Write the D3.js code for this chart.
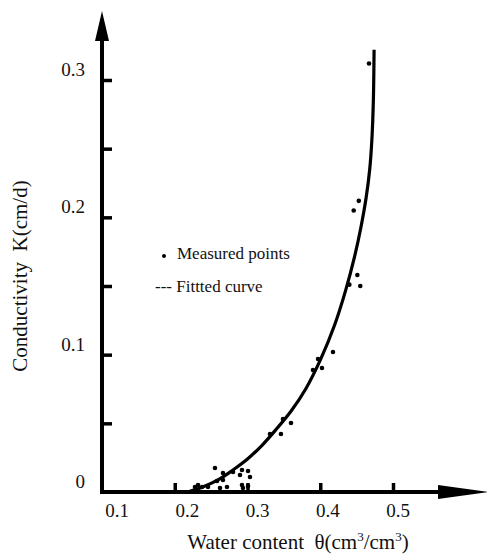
<!DOCTYPE html>
<html>
<head>
<meta charset="utf-8">
<script src="https://cdn.jsdelivr.net/npm/d3@7/dist/d3.min.js"></script>
<style>
  html, body { margin: 0; padding: 0; background: #fff; }
  svg { display: block; }
</style>
</head>
<body>
<script>
// ---- data ----
const measuredTheta = [0.467, 0.453, 0.446, 0.451, 0.440, 0.455,
  0.4175, 0.397, 0.390, 0.4024, 0.3488, 0.3598, 0.3309, 0.346,
  0.2553, 0.2663, 0.2801, 0.2924, 0.3007, 0.3034, 0.2897, 0.2663, 0.2581,
  0.2718, 0.2924, 0.2938, 0.3007, 0.2278, 0.232, 0.2375, 0.2457, 0.2622];
const measuredK = [0.312, 0.212, 0.205, 0.158, 0.151, 0.150,
  0.1019, 0.0968, 0.0888, 0.0903, 0.0532, 0.0502, 0.0422, 0.0422,
  0.0175, 0.0138, 0.0146, 0.0160, 0.0153, 0.0109, 0.0124, 0.0087, 0.0080,
  0.0036, 0.0051, 0.0029, 0.0044, 0.0036, 0.0051, 0.0036, 0.0036, 0.0029];
const fitTheta = [0.218, 0.24, 0.26, 0.28, 0.30, 0.32, 0.34, 0.36, 0.38, 0.40,
  0.42, 0.435, 0.447, 0.456, 0.463, 0.468, 0.471, 0.473, 0.474];
const fitK = [0.0, 0.004, 0.009, 0.016, 0.024, 0.034, 0.046, 0.059, 0.075, 0.096,
  0.122, 0.147, 0.171, 0.193, 0.214, 0.235, 0.257, 0.285, 0.322];
const xTickValues = [0.2, 0.3, 0.4, 0.5];
const xLabelValues = [0.1, 0.2, 0.3, 0.4, 0.5];
const xLabelText = ["0.1", "0.2", "0.3", "0.4", "0.5"];
const yTickValues = [0.05, 0.1, 0.15, 0.2, 0.25, 0.3];
const yLabelValues = [0, 0.1, 0.2, 0.3];
const yLabelText = ["0", "0.1", "0.2", "0.3"];
const legendMeasured = "Measured points";
const legendFitted = "--- Fittted curve";

// ---- layout ----
const W = 487, H = 556;
const FONT = "'Liberation Serif', 'Times New Roman', Times, serif";
const svg = d3.select("body").append("svg").attr("width", W).attr("height", H)
  .attr("font-family", FONT);

const x = d3.scaleLinear().domain([0.1, 0.5]).range([102, 393]);
const y = d3.scaleLinear().domain([0, 0.3]).range([492, 80]);
// tick labels in the original sit slightly offset from their ticks
const xLab = d3.scaleLinear().domain([0.1, 0.5]).range([117, 398]);

// axis lines
svg.append("line").attr("x1", x(0.1)).attr("x2", 441).attr("y1", y(0)).attr("y2", y(0))
  .attr("stroke", "#000").attr("stroke-width", 4);
svg.append("line").attr("x1", x(0.1)).attr("x2", x(0.1)).attr("y1", y(0) + 2).attr("y2", 38)
  .attr("stroke", "#000").attr("stroke-width", 4);
// arrowheads
svg.append("path").attr("d", `M${x(0.1)},11 L${x(0.1) - 7},41 L${x(0.1) + 7},41 Z`).attr("fill", "#000");
svg.append("path").attr("d", `M488,${y(0)} L438,${y(0) - 7} L438,${y(0) + 7} Z`).attr("fill", "#000");

// x ticks (pointing up)
const xAxis = d3.axisBottom(x).tickValues(xTickValues).tickSizeInner(-9).tickSizeOuter(0).tickFormat("");
const gx = svg.append("g").attr("transform", `translate(0,${y(0)})`).call(xAxis);
gx.select(".domain").remove();
gx.selectAll(".tick line").attr("stroke", "#000").attr("stroke-width", 3.5);

// y ticks (pointing right)
const yAxis = d3.axisLeft(y).tickValues(yTickValues).tickSizeInner(-10).tickSizeOuter(0).tickFormat("");
const gy = svg.append("g").attr("transform", `translate(${x(0.1)},0)`).call(yAxis);
gy.select(".domain").remove();
gy.selectAll(".tick line").attr("stroke", "#000").attr("stroke-width", 3.5);

// tick labels
svg.selectAll(".xl").data(xLabelValues).join("text").attr("class", "xl")
  .attr("x", d => xLab(d)).attr("y", 517).attr("text-anchor", "middle")
  .attr("font-size", 19).attr("fill", "#111").text((d, i) => xLabelText[i]);
svg.selectAll(".yl").data(yLabelValues).join("text").attr("class", "yl")
  .attr("x", 85).attr("y", d => y(d) - 4).attr("text-anchor", "end")
  .attr("font-size", 19).attr("fill", "#111").text((d, i) => yLabelText[i]);

// axis titles
const xt = svg.append("text").attr("x", 298).attr("y", 549).attr("text-anchor", "middle")
  .attr("font-size", 21).attr("fill", "#111").attr("xml:space", "preserve");
xt.append("tspan").text("Water content  θ(cm");
xt.append("tspan").attr("dy", -8).attr("font-size", 13).text("3");
xt.append("tspan").attr("dy", 8).text("/cm");
xt.append("tspan").attr("dy", -8).attr("font-size", 13).text("3");
xt.append("tspan").attr("dy", 8).text(")");

svg.append("text").attr("transform", "translate(27,276) rotate(-90)").attr("text-anchor", "middle")
  .attr("font-size", 21).attr("fill", "#111").attr("xml:space", "preserve").text("Conductivity  K(cm/d)");

// fitted curve
const line = d3.line().x(d => x(d[0])).y(d => y(d[1])).curve(d3.curveCatmullRom.alpha(0.5));
svg.append("path").datum(fitTheta.map((t, i) => [t, fitK[i]]))
  .attr("d", line).attr("fill", "none").attr("stroke", "#000").attr("stroke-width", 3.2);

// measured points
svg.selectAll(".pt").data(measuredTheta.map((t, i) => [t, measuredK[i]])).join("circle")
  .attr("class", "pt").attr("cx", d => x(d[0])).attr("cy", d => y(d[1])).attr("r", 2.3).attr("fill", "#000");

// legend
svg.append("circle").attr("cx", 164).attr("cy", 256).attr("r", 2).attr("fill", "#000");
svg.append("text").attr("x", 177).attr("y", 259).attr("font-size", 17).attr("fill", "#111").text(legendMeasured);
svg.append("text").attr("x", 155).attr("y", 292).attr("font-size", 17).attr("fill", "#111").text(legendFitted);
</script>
</body>
</html>
